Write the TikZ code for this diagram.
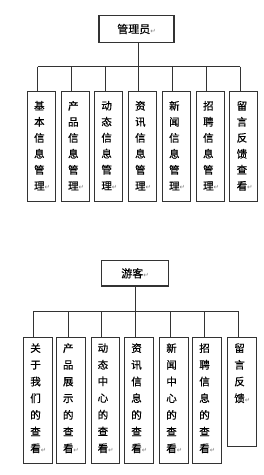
\documentclass[tikz,border=0pt]{standalone}
\usepackage{fontspec}
\newfontfamily\cjk[FakeBold=0.5]{Noto Sans CJK SC}
\newfontfamily\dvs{DejaVu Sans}
\newcommand\retmark{{\dvs\fontsize{6.5}{6.5}\selectfont\color{black!50}↵}}
\definecolor{ln}{HTML}{333333}
\tikzset{
  box/.style={draw=ln, line width=1.1pt, fill=white, inner sep=0pt},
  cline/.style={draw=ln, line width=0.9pt},
  colA/.style={font=\cjk\fontsize{10.5}{16}\selectfont, align=left, inner sep=0pt, anchor=north west},
  colB/.style={font=\cjk\fontsize{10.5}{16.7}\selectfont, align=left, inner sep=0pt, anchor=north west},
  roottxt/.style={font=\cjk\fontsize{11}{12}\selectfont}
}
\begin{document}
\begin{tikzpicture}[x=1pt,y=-1pt]
\useasboundingbox[fill=white] (0,0) rectangle (264,475);
% ---------- top tree ----------
\node[box, minimum width=75, minimum height=26.6, roottxt] (adm) at (136.5,29) {管理员\retmark};
\foreach \i/\l/\d/\t in {
 1/26.7/37.7/{基\\本\\信\\息\\管\\理},
 2/60.7/71.7/{产\\品\\信\\息\\管\\理},
 3/94/105.3/{动\\态\\信\\息\\管\\理},
 4/127.7/138.3/{资\\讯\\信\\息\\管\\理},
 5/161.7/172.7/{新\\闻\\信\\息\\管\\理},
 6/195.7/206.7/{招\\聘\\信\\息\\管\\理},
 7/229.3/240/{留\\言\\反\\馈\\查\\看}}{
  \node[box, minimum width=28, minimum height=110.3, anchor=north west] (a\i) at (\l,90.7) {};
  \node[colA] (ta\i) at ([xshift=7.2,yshift=-10.1]a\i.north west) {\t\retmark};
  \coordinate (ja\i) at (\d,66.7);
  \draw[cline] (ja\i) -- (ja\i |- a\i.north);
}
\draw[cline] (ja1) -- (ja7);
\draw[cline] (ja4 |- adm.south) -- (ja4);
% ---------- bottom tree ----------
\node[box, minimum width=66.6, minimum height=25.3, roottxt] (vis) at (135,273.3) {游客\retmark};
\foreach \i/\l/\d/\h/\t in {
 1/23.3/33.3/126/{关\\于\\我\\们\\的\\查\\看},
 2/56/68.3/126/{产\\品\\展\\示\\的\\查\\看},
 3/90.7/101.7/126/{动\\态\\中\\心\\的\\查\\看},
 4/124.3/135/126/{资\\讯\\信\\息\\的\\查\\看},
 5/159.3/170/126/{新\\闻\\中\\心\\的\\查\\看},
 6/192.3/204.3/126/{招\\聘\\信\\息\\的\\查\\看},
 7/227.3/238.3/109/{留\\言\\反\\馈}}{
  \node[box, minimum width=28.5, minimum height=\h, anchor=north west] (b\i) at (\l,336.7) {};
  \node[colB] (tb\i) at ([xshift=6.8,yshift=-6.4]b\i.north west) {\t\retmark};
  \coordinate (jb\i) at (\d,311);
  \draw[cline] (jb\i) -- (jb\i |- b\i.north);
}
\draw[cline] (jb1) -- (jb7);
\draw[cline] (jb4 |- vis.south) -- (jb4);
\end{tikzpicture}
\end{document}
